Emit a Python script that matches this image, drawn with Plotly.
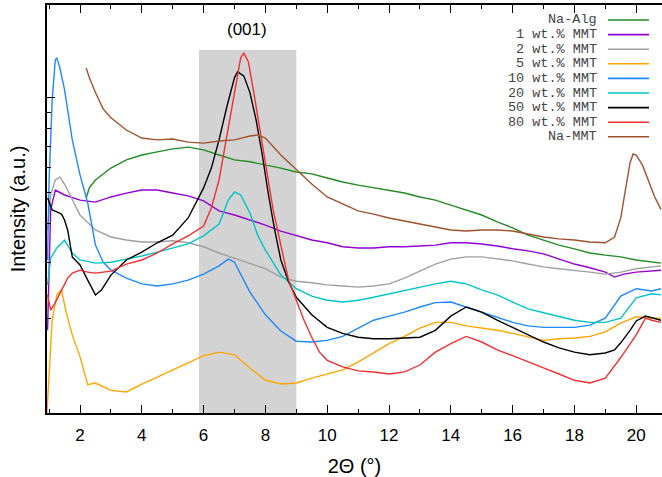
import plotly.graph_objects as go

# ---------------- data (intensity in a.u., log scale) ----------------
names = ["Na-Alg", "1 wt.% MMT", "2 wt.% MMT", "5 wt.% MMT", "10 wt.% MMT",
         "20 wt.% MMT", "50 wt.% MMT", "80 wt.% MMT", "Na-MMT"]
colors = ["#228B22", "#9400D3", "#A0A0A0", "#FFA500", "#1E88FF",
          "#00C5C8", "#000000", "#F03030", "#A0522D"]

x_alg = [2.2, 2.3, 2.5, 3, 3.5, 4, 4.5, 5, 5.5, 6, 6.5, 7, 7.5, 8, 8.5, 9, 9.5, 10, 10.5, 11,
         11.5, 12, 12.5, 13, 13.5, 14, 14.5, 15, 15.5, 16, 16.5, 17, 17.5, 18, 18.5, 19, 19.5,
         20, 20.5, 20.8]
y_alg = [4.81, 5.18, 5.49, 5.99, 6.36, 6.59, 6.74, 6.89, 6.98, 6.84, 6.59, 6.36, 6.27, 6.13,
         5.99, 5.82, 5.74, 5.57, 5.41, 5.29, 5.18, 5.10, 4.99, 4.85, 4.74, 4.57, 4.41, 4.25,
         4.04, 3.87, 3.67, 3.54, 3.41, 3.32, 3.22, 3.17, 3.13, 3.06, 3.01, 2.99]

x_1 = [0.95, 1.05, 1.2, 1.5, 2, 2.5, 3, 3.5, 4, 4.5, 5, 5.5, 6, 6.5, 7, 7.5, 8, 8.5, 9, 9.5,
       10, 10.5, 11, 11.5, 12, 12.5, 13, 13.5, 14, 14.5, 15, 15.5, 16, 16.5, 17, 17.5, 18,
       18.5, 19, 19.3, 19.6, 20, 20.5, 20.8]
y_1 = [1.83, 4.41, 5.10, 4.92, 4.74, 4.67, 4.85, 4.99, 5.10, 5.10, 4.99, 4.89, 4.71, 4.38,
       4.25, 4.10, 3.95, 3.78, 3.65, 3.54, 3.47, 3.37, 3.34, 3.34, 3.37, 3.37, 3.39, 3.41,
       3.47, 3.47, 3.44, 3.39, 3.32, 3.27, 3.20, 3.08, 2.97, 2.89, 2.80, 2.70, 2.76, 2.80,
       2.82, 2.84]

x_2 = [0.95, 1.05, 1.2, 1.35, 1.5, 1.75, 2, 2.5, 3, 3.5, 4, 4.5, 5, 5.5, 6, 6.5, 7, 7.5, 8,
       8.5, 9, 9.5, 10, 10.5, 11, 11.5, 12, 12.5, 13, 13.5, 14, 14.5, 15, 15.5, 16, 16.5, 17,
       17.5, 18, 18.5, 19, 19.5, 20, 20.5, 20.8]
y_2 = [3.81, 4.92, 5.49, 5.61, 5.33, 4.74, 4.25, 3.81, 3.62, 3.54, 3.49, 3.49, 3.52, 3.47,
       3.37, 3.22, 3.10, 2.99, 2.87, 2.70, 2.62, 2.59, 2.55, 2.53, 2.51, 2.53, 2.57, 2.68,
       2.82, 2.97, 3.08, 3.13, 3.13, 3.08, 3.04, 2.97, 2.91, 2.87, 2.84, 2.80, 2.76, 2.80,
       2.87, 2.91, 2.93]

x_5 = [0.93, 1.0, 1.1, 1.25, 1.4, 1.55, 1.75, 2, 2.25, 2.5, 3, 3.5, 4, 4.5, 5, 5.5, 6, 6.5,
       7, 7.5, 8, 8.5, 9, 9.5, 10, 10.5, 11, 11.5, 12, 12.5, 13, 13.5, 14, 14.5, 15, 15.5,
       16, 16.5, 17, 17.5, 18, 18.5, 19, 19.5, 20, 20.5, 20.8]
y_5 = [1.00, 1.37, 1.97, 2.37, 2.46, 2.09, 1.77, 1.51, 1.23, 1.245, 1.18, 1.166, 1.236,
       1.30, 1.37, 1.45, 1.52, 1.56, 1.53, 1.39, 1.27, 1.236, 1.245, 1.29, 1.33, 1.37, 1.45,
       1.55, 1.66, 1.75, 1.86, 1.94, 1.94, 1.89, 1.86, 1.83, 1.79, 1.74, 1.70, 1.72, 1.73,
       1.75, 1.81, 1.93, 2.02, 2.00, 2.00]

x_10 = [0.95, 1.0, 1.1, 1.2, 1.25, 1.35, 1.5, 1.75, 2, 2.25, 2.5, 2.75, 3, 3.5, 4, 4.5, 5,
        5.5, 6, 6.5, 6.8, 7, 7.5, 8, 8.5, 9, 9.5, 10, 10.5, 11, 11.5, 12, 12.5, 13, 13.5, 14,
        14.5, 15, 15.5, 16, 16.5, 17, 17.5, 18, 18.5, 19, 19.5, 20, 20.5, 20.8]
y_10 = [3.06, 5.49, 9.86, 13.2, 13.4, 12.45, 10.6, 7.36, 5.70, 4.64, 3.41, 3.01, 2.84, 2.68,
        2.57, 2.53, 2.57, 2.64, 2.76, 2.93, 3.08, 3.01, 2.42, 2.05, 1.82, 1.69, 1.68, 1.70,
        1.75, 1.86, 1.97, 2.03, 2.09, 2.17, 2.24, 2.25, 2.17, 2.09, 2.02, 1.94, 1.89, 1.87,
        1.87, 1.87, 1.90, 2.00, 2.35, 2.48, 2.44, 2.48]

x_20 = [0.95, 1.05, 1.25, 1.5, 1.75, 2, 2.5, 3, 3.5, 4, 4.5, 5, 5.5, 6, 6.5, 6.8, 7, 7.2,
        7.5, 7.75, 8, 8.5, 9, 9.5, 10, 10.5, 11, 11.5, 12, 12.5, 13, 13.5, 14, 14.5, 15,
        15.5, 16, 16.5, 17, 17.5, 18, 18.5, 19, 19.5, 20, 20.5, 20.8]
y_20 = [2.55, 3.10, 3.34, 3.54, 3.22, 3.06, 2.99, 3.01, 3.08, 3.15, 3.24, 3.34, 3.44, 3.65,
        3.98, 4.74, 5.03, 4.92, 4.31, 3.67, 3.29, 2.74, 2.48, 2.35, 2.28, 2.25, 2.28, 2.33,
        2.39, 2.44, 2.51, 2.57, 2.62, 2.57, 2.46, 2.37, 2.25, 2.14, 2.08, 2.02, 1.97, 1.94,
        1.94, 2.00, 2.32, 2.39, 2.37]

x_50 = [0.95, 1.1, 1.25, 1.4, 1.5, 1.6, 1.75, 2, 2.25, 2.5, 2.7, 3, 3.5, 4, 4.5, 5, 5.5, 6,
        6.25, 6.5, 6.75, 7, 7.1, 7.3, 7.5, 7.7, 7.9, 8.1, 8.3, 8.5, 8.75, 9, 9.5, 10, 10.5,
        11, 11.5, 12, 12.5, 13, 13.5, 14, 14.5, 15, 15.5, 16, 16.5, 17, 17.5, 18, 18.5, 19,
        19.3, 19.5, 19.8, 20, 20.3, 20.8]
y_50 = [4.81, 4.41, 4.35, 4.28, 4.10, 3.81, 3.13, 2.95, 2.64, 2.37, 2.46, 2.74, 3.06, 3.24,
        3.47, 3.67, 4.16, 5.18, 5.99, 7.36, 9.36, 11.6, 12.1, 11.75, 10.4, 8.51, 6.59, 4.92,
        3.81, 3.06, 2.61, 2.33, 2.05, 1.87, 1.79, 1.74, 1.72, 1.72, 1.73, 1.74, 1.83, 2.03,
        2.17, 2.09, 1.97, 1.87, 1.77, 1.68, 1.61, 1.56, 1.53, 1.55, 1.585, 1.67, 1.83, 1.96,
        2.03, 1.97]

x_80 = [0.95, 1.05, 1.2, 1.4, 1.6, 1.75, 2, 2.25, 2.5, 3, 3.5, 4, 4.5, 5, 5.5, 6, 6.25, 6.5,
        6.75, 7, 7.2, 7.3, 7.45, 7.6, 7.8, 8, 8.25, 8.5, 8.75, 9, 9.25, 9.5, 9.75, 10, 10.5,
        11, 11.5, 12, 12.5, 13, 13.5, 14, 14.5, 15, 15.5, 16, 16.5, 17, 17.5, 18, 18.5, 19,
        19.5, 20, 20.3, 20.5, 20.8]
y_80 = [2.37, 2.12, 2.24, 2.46, 2.68, 2.78, 2.84, 2.80, 2.78, 2.82, 2.97, 3.06, 3.22, 3.44,
        3.65, 3.92, 4.47, 5.49, 7.63, 10.45, 13.4, 13.9, 13.0, 10.75, 8.21, 6.36, 4.41, 3.41,
        2.64, 2.28, 1.97, 1.74, 1.56, 1.47, 1.40, 1.36, 1.35, 1.33, 1.35, 1.42, 1.56, 1.66,
        1.75, 1.68, 1.585, 1.52, 1.45, 1.39, 1.33, 1.27, 1.245, 1.29, 1.50, 1.77, 2.00, 1.97,
        1.94]

x_mmt = [2.2, 2.3, 2.5, 2.75, 3, 3.5, 4, 4.5, 5, 5.5, 6, 6.5, 7, 7.5, 7.75, 8, 8.5, 9, 9.5,
         10, 10.5, 11, 11.5, 12, 12.5, 13, 13.5, 14, 14.5, 15, 15.5, 16, 16.5, 17, 17.5, 18,
         18.5, 19, 19.3, 19.5, 19.65, 19.8, 19.9, 20.0, 20.2, 20.4, 20.6, 20.8]
y_mmt = [12.45, 11.6, 10.4, 9.23, 8.65, 7.91, 7.46, 7.36, 7.41, 7.24, 7.19, 7.30, 7.36, 7.57,
         7.63, 7.46, 6.59, 5.91, 5.33, 4.85, 4.61, 4.38, 4.28, 4.16, 4.07, 3.98, 3.90, 3.81,
         3.78, 3.81, 3.81, 3.78, 3.70, 3.62, 3.57, 3.54, 3.49, 3.47, 3.62, 4.16, 5.10, 6.22,
         6.64, 6.59, 6.13, 5.41, 4.85, 4.43]

series_x = [x_alg, x_1, x_2, x_5, x_10, x_20, x_50, x_80, x_mmt]
series_y = [y_alg, y_1, y_2, y_5, y_10, y_20, y_50, y_80, y_mmt]

x_ticks = [2, 4, 6, 8, 10, 12, 14, 16, 18, 20]
y_major = [10]
y_minor = [2, 3, 4, 5, 6, 7, 8, 9]
band = (5.85, 9.0)          # shaded (001) region in 2Θ
band_label = "(001)"

# ---------------- figure ----------------
W, H = 662, 477
ML, MR, MT, MB = 47, 0, 5, 64
PW, PH = W - ML - MR, H - MT - MB

def px(xp):
    return (xp - ML) / PW

def py(yp):
    return (H - MB - yp) / PH

fig = go.Figure()

fig.add_shape(type="rect", xref="x", yref="paper", x0=band[0], x1=band[1],
              y0=0, y1=py(50), fillcolor="#D3D3D3", line_width=0, layer="below")

for name, c, xs, ys in zip(names, colors, series_x, series_y):
    fig.add_trace(go.Scatter(x=xs, y=ys, mode="lines", name=name,
                             line=dict(color=c, width=1.4), showlegend=False))

fig.add_annotation(x=sum(band) / 2 - 0.03, xref="x", y=py(29), yref="paper",
                   text=band_label, showarrow=False, yanchor="middle", xanchor="center",
                   font=dict(family="Liberation Sans, Arial", size=17, color="black"))

# custom legend (text right-aligned, sample line on the right, as in the reference)
row0, dy = 20, 14.6
for i, (name, c) in enumerate(zip(names, colors)):
    yy = py(row0 + i * dy)
    fig.add_annotation(x=px(599), y=yy, xref="paper", yref="paper", text=name,
                       showarrow=False, xanchor="right", yanchor="middle",
                       font=dict(family="Liberation Mono, Courier New, monospace",
                                 size=13.5, color="#444444"))
    fig.add_shape(type="line", xref="paper", yref="paper", x0=px(608), x1=px(649),
                  y0=yy, y1=yy, line=dict(color=c, width=1.6))

fig.update_layout(
    width=W, height=H, margin=dict(l=ML, r=MR, t=MT, b=MB),
    plot_bgcolor="white", paper_bgcolor="white",
    font=dict(family="Liberation Sans, Arial", size=17, color="black"),
    xaxis=dict(range=[0.932, 20.835], tickvals=x_ticks, ticks="inside", ticklen=8,
               tickwidth=1, tickcolor="black", showline=True, linecolor="black",
               linewidth=1.5, mirror="ticks", showgrid=False, zeroline=False,
               minor=dict(ticks="inside", ticklen=4, dtick=1, tick0=1, tickcolor="black"),
               ticklabelstandoff=6,
               title=dict(text="2Θ (°)", standoff=16),
               tickfont=dict(size=17)),
    yaxis=dict(type="log", range=[0, 1.295], tickvals=y_major, ticks="inside", ticklen=8,
               tickcolor="black", showticklabels=False, showline=True, linecolor="black",
               linewidth=1.5, mirror=False, showgrid=False, zeroline=False,
               minor=dict(ticks="inside", ticklen=4, tickmode="array", tickvals=y_minor,
                          tickcolor="black"),
               title=dict(text="Intensity (a.u.)", standoff=14)),
)

fig.write_html("out.html")
